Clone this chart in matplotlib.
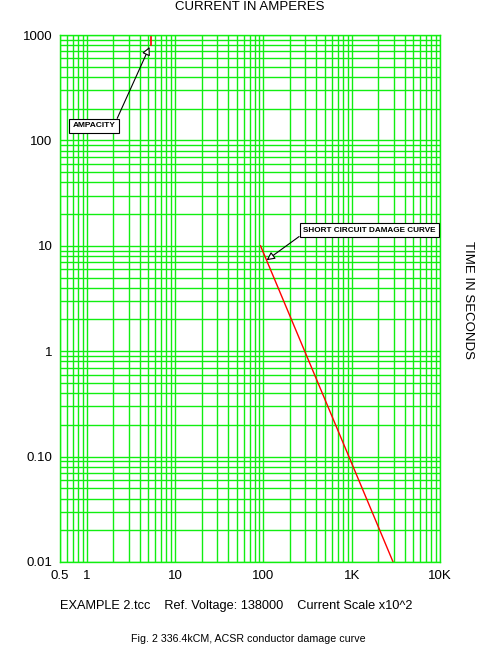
import numpy as np
import matplotlib
matplotlib.use("Agg")
import matplotlib.pyplot as plt
from matplotlib.ticker import FixedLocator, LogLocator, NullFormatter

plt.rcParams['font.family'] = ['Liberation Sans', 'DejaVu Sans']

# damage curve (I^2 t = const), current in amperes x100
damage_current = [93, 2944]
damage_time = [10, 0.01]

# ampacity marker at top of the chart
ampacity_current = [5.3, 5.3]
ampacity_time = [1000, 800]

x_ticks = [0.5, 1, 10, 100, 1000, 10000]
x_labels = ["0.5", "1", "10", "100", "1K", "10K"]
y_ticks = [0.01, 0.1, 1, 10, 100, 1000]
y_labels = ["0.01", "0.10", "1", "10", "100", "1000"]

green = '#11ee11'

fig = plt.figure(figsize=(5.0, 6.47), dpi=100)
ax = fig.add_axes([60 / 500, 1 - 562 / 647, 380 / 500, 527 / 647])
ax.set_xscale('log')
ax.set_yscale('log')
ax.set_xlim(0.5, 10000)
ax.set_ylim(0.01, 1000)

ax.xaxis.set_major_locator(FixedLocator(x_ticks))
ax.xaxis.set_minor_locator(LogLocator(base=10, subs=np.arange(2, 10)))
ax.xaxis.set_minor_formatter(NullFormatter())
ax.set_xticklabels(x_labels)
ax.yaxis.set_major_locator(FixedLocator(y_ticks))
ax.yaxis.set_minor_locator(LogLocator(base=10, subs=np.arange(2, 10)))
ax.yaxis.set_minor_formatter(NullFormatter())
ax.set_yticklabels(y_labels)

ax.grid(True, which='both', color=green, linewidth=1.0)
ax.set_axisbelow(True)
ax.tick_params(which='both', length=0, labelsize=9.5)
ax.tick_params(axis='y', pad=5.5)
ax.tick_params(axis='x', pad=6)
for s in ax.spines.values():
    s.set_color(green)
    s.set_linewidth(1.0)

ax.plot(damage_current, damage_time, color='red', linewidth=1.0)
ax.plot(ampacity_current, ampacity_time, color='red', linewidth=1.2)

arrow = dict(arrowstyle='-|>', color='black', lw=0.8, fc='white',
             mutation_scale=12, shrinkA=0, shrinkB=0)
box = dict(boxstyle='square,pad=0.45', fc='white', ec='black', lw=0.8)

ax.annotate("AMPACITY", xy=(5.15, 770), xytext=(1.21, 137),
            fontsize=6, fontweight='bold', ha='center', va='center',
            bbox=box, arrowprops=dict(arrow, relpos=(1.0, 1.0)))
ax.annotate("SHORT CIRCUIT DAMAGE CURVE", xy=(109, 7.3), xytext=(1590, 14.1),
            fontsize=5.9, fontweight='bold', ha='center', va='center',
            bbox=box, arrowprops=dict(arrow, relpos=(0.0, 0.0)))

fig.text(0.5, 1 - 7 / 647, "CURRENT IN AMPERES", ha='center', va='center',
         fontsize=9.5)
fig.text(468 / 500, 1 - 300 / 647, "TIME IN SECONDS", ha='center',
         va='center', rotation=-90, fontsize=9.5)
fig.text(60 / 500, 1 - 606 / 647,
         "EXAMPLE 2.tcc    Ref. Voltage: 138000    Current Scale x10^2",
         ha='left', va='center', fontsize=9.2)
fig.text(248 / 500, 1 - 639 / 647,
         "Fig. 2 336.4kCM, ACSR conductor damage curve",
         ha='center', va='center', fontsize=7.7)

fig.savefig('out.png', dpi=100)
